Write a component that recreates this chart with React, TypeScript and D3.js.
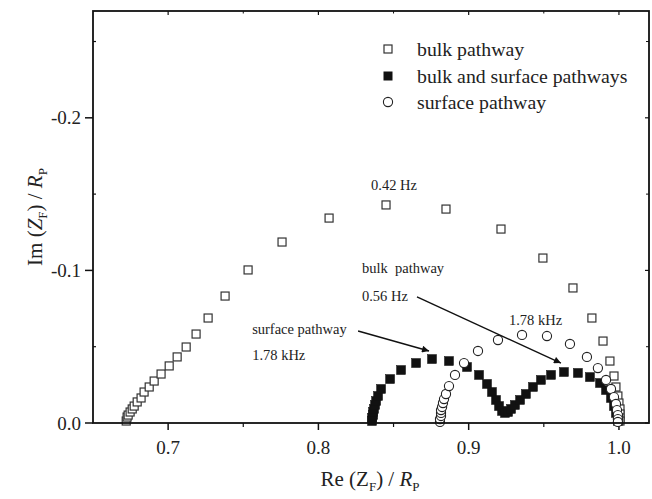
import React from 'react';
import * as d3 from 'd3';

// ---- data (Re(Z_F)/R_P, Im(Z_F)/R_P) ----
const bulkRe = [0.6721, 0.6727, 0.6734, 0.6747, 0.6761, 0.6774, 0.6794, 0.682, 0.684, 0.6874, 0.6907, 0.6953, 0.7007, 0.706, 0.712, 0.7186, 0.7266, 0.7379, 0.7532, 0.7758, 0.8071, 0.845, 0.8849, 0.9215, 0.9494, 0.9694, 0.982, 0.9894, 0.994, 0.9967, 0.998, 0.9993, 1.0, 1.0007, 1.0007, 1.0007, 1.0007];
const bulkIm = [-0.0013, -0.0039, -0.0052, -0.0072, -0.0092, -0.0111, -0.0138, -0.0164, -0.0203, -0.0236, -0.0275, -0.0321, -0.0374, -0.0433, -0.0498, -0.0583, -0.0688, -0.0832, -0.1003, -0.1186, -0.1343, -0.1429, -0.1402, -0.1271, -0.1081, -0.0885, -0.0688, -0.0537, -0.0406, -0.0308, -0.0236, -0.0177, -0.0131, -0.0092, -0.0059, -0.0033, -0.0013];

const bothRe = [0.8357, 0.8357, 0.8364, 0.8364, 0.837, 0.8377, 0.8384, 0.8397, 0.8417, 0.8477, 0.855, 0.865, 0.8756, 0.8869, 0.8989, 0.9069, 0.9122, 0.9155, 0.9182, 0.9202, 0.9222, 0.9242, 0.9262, 0.9282, 0.9308, 0.9342, 0.9381, 0.9428, 0.9481, 0.9548, 0.9634, 0.9727, 0.9807, 0.9874, 0.9914, 0.9947, 0.9967, 0.998, 0.9993, 0.9993];
const bothIm = [-0.0013, -0.0033, -0.0052, -0.0072, -0.0092, -0.0118, -0.0144, -0.0177, -0.0223, -0.0288, -0.0347, -0.0393, -0.0419, -0.0406, -0.0367, -0.0315, -0.0256, -0.0203, -0.0151, -0.0111, -0.0079, -0.0066, -0.0072, -0.0092, -0.0118, -0.0151, -0.019, -0.0236, -0.0282, -0.0315, -0.0334, -0.0328, -0.0301, -0.0262, -0.0216, -0.0164, -0.0111, -0.0066, -0.0033, -0.0013];

const surfRe = [0.8809, 0.8809, 0.8816, 0.8816, 0.8816, 0.8823, 0.8829, 0.8836, 0.8849, 0.8869, 0.8909, 0.8969, 0.9062, 0.9195, 0.9355, 0.9521, 0.9674, 0.9787, 0.986, 0.9914, 0.9947, 0.9967, 0.998, 0.9987, 0.9993, 0.9993, 0.9993];
const surfIm = [-0.0007, -0.0026, -0.0046, -0.0066, -0.0085, -0.0105, -0.0131, -0.0157, -0.019, -0.0242, -0.0315, -0.0393, -0.0472, -0.0544, -0.0577, -0.057, -0.0518, -0.0433, -0.036, -0.0282, -0.0223, -0.017, -0.0125, -0.0085, -0.0052, -0.0026, -0.0007];

const xMajor = [0.7, 0.8, 0.9, 1.0];
const xMinor = [0.75, 0.85, 0.95];
const yMajor = [0, -0.1, -0.2];
const yMinor = [-0.05, -0.15, -0.25];
const xTickLabels = ['0.7', '0.8', '0.9', '1.0'];
const yTickLabels = ['0.0', '-0.1', '-0.2'];
const legendLabels = ['bulk pathway', 'bulk and surface pathways', 'surface pathway'];

const W = 652, H = 499;
const L = 93, R = 649, T = 11, B = 423;
const FONT = '"Liberation Serif", "Times New Roman", serif';

export default function App() {
  const x = d3.scaleLinear().domain([0.65, 1.02]).range([L, R]);
  const y = d3.scaleLinear().domain([0, -0.27]).range([B, T]);

  const bulk = bulkRe.map((v, i) => [x(v), y(bulkIm[i])]);
  const both = bothRe.map((v, i) => [x(v), y(bothIm[i])]);
  const surf = surfRe.map((v, i) => [x(v), y(surfIm[i])]);

  const sqO = 8, sqF = 9, cr = 4.6;

  return (
    <svg width={W} height={H} viewBox={`0 0 ${W} ${H}`}
      style={{ position: 'absolute', left: 0, top: 0, display: 'block', background: '#fff' }}
      fontFamily={FONT}>
      <defs>
        <marker id="ah" viewBox="0 0 10 10" refX="10" refY="5" markerWidth="9" markerHeight="7" markerUnits="userSpaceOnUse" orient="auto">
          <path d="M0,0 L10,5 L0,10 z" fill="#111" />
        </marker>
      </defs>
      <rect x={0} y={0} width={W} height={H} fill="#fff" />

      {/* ticks */}
      {xMajor.map((v) => (
        <g key={'xm' + v}>
          <line x1={x(v)} x2={x(v)} y1={B} y2={B + 7} stroke="#111" strokeWidth={1.5} />
          <line x1={x(v)} x2={x(v)} y1={T} y2={T + 4} stroke="#111" strokeWidth={1.2} />
        </g>
      ))}
      {xMinor.map((v) => (
        <g key={'xn' + v}>
          <line x1={x(v)} x2={x(v)} y1={B} y2={B + 4} stroke="#111" strokeWidth={1.2} />
          <line x1={x(v)} x2={x(v)} y1={T} y2={T + 2.5} stroke="#111" strokeWidth={1} />
        </g>
      ))}
      {yMajor.map((v) => (
        <g key={'ym' + v}>
          <line x1={L - 8} x2={L} y1={y(v)} y2={y(v)} stroke="#111" strokeWidth={1.5} />
          <line x1={R - 4} x2={R} y1={y(v)} y2={y(v)} stroke="#111" strokeWidth={1.2} />
        </g>
      ))}
      {yMinor.map((v) => (
        <g key={'yn' + v}>
          <line x1={L} x2={L + 3} y1={y(v)} y2={y(v)} stroke="#111" strokeWidth={1.2} />
          <line x1={R - 3} x2={R} y1={y(v)} y2={y(v)} stroke="#111" strokeWidth={1} />
        </g>
      ))}

      {/* tick labels */}
      {xMajor.map((v, i) => (
        <text key={'xl' + v} x={x(v)} y={B + 31} textAnchor="middle" fontSize={19} fill="#222">{xTickLabels[i]}</text>
      ))}
      {yMajor.map((v, i) => (
        <text key={'yl' + v} x={L - 12} y={y(v) + 6.5} textAnchor="end" fontSize={19} fill="#222">{yTickLabels[i]}</text>
      ))}

      {/* axis titles */}
      <text x={370} y={486} textAnchor="middle" fontSize={21} fill="#222">
        Re (Z<tspan fontSize={13} dy={5}>F</tspan><tspan dy={-5}>) / </tspan><tspan fontStyle="italic">R</tspan><tspan fontSize={13} dy={5}>P</tspan>
      </text>
      <text transform={`translate(42,${(T + B) / 2}) rotate(-90)`} textAnchor="middle" fontSize={21} fill="#222">
        Im (<tspan fontStyle="italic">Z</tspan><tspan fontSize={13} dy={5}>F</tspan><tspan dy={-5}>) / </tspan><tspan fontStyle="italic">R</tspan><tspan fontSize={13} dy={5}>P</tspan>
      </text>

      {/* data */}
      {bulk.map(([px, py], i) => (
        <rect key={'b' + i} x={px - sqO / 2} y={py - sqO / 2} width={sqO} height={sqO} fill="#fff" stroke="#333" strokeWidth={1.2} />
      ))}
      {both.map(([px, py], i) => (
        <rect key={'f' + i} x={px - sqF / 2} y={py - sqF / 2} width={sqF} height={sqF} fill="#111" stroke="#111" strokeWidth={0.5} />
      ))}
      {surf.map(([px, py], i) => (
        <circle key={'s' + i} cx={px} cy={py} r={cr} fill="#fff" stroke="#222" strokeWidth={1.1} />
      ))}

      {/* annotations */}
      <text x={x(0.835)} y={y(-0.1527)} fontSize={14.5} fill="#222">0.42 Hz</text>
      <text x={x(0.829)} y={y(-0.0983)} fontSize={14.5} fill="#222" style={{ whiteSpace: 'pre' }}>bulk  pathway</text>
      <text x={x(0.829)} y={y(-0.080)} fontSize={14.5} fill="#222">0.56 Hz</text>
      <line x1={x(0.8656)} y1={y(-0.0826)} x2={x(0.9614)} y2={y(-0.0393)} stroke="#111" strokeWidth={1.4} markerEnd="url(#ah)" />
      <text x={x(0.7559)} y={y(-0.0583)} fontSize={14.5} fill="#222">surface pathway</text>
      <text x={x(0.7559)} y={y(-0.0413)} fontSize={14.5} fill="#222">1.78 kHz</text>
      <line x1={x(0.8264)} y1={y(-0.0603)} x2={x(0.8736)} y2={y(-0.0472)} stroke="#111" strokeWidth={1.4} markerEnd="url(#ah)" />
      <text x={x(0.9268)} y={y(-0.0642)} fontSize={14.5} fill="#222">1.78 kHz</text>

      {/* legend */}
      <rect x={388 - 4} y={49 - 4} width={8} height={8} fill="#fff" stroke="#333" strokeWidth={1.2} />
      <rect x={388 - 4.5} y={76 - 4.5} width={9} height={9} fill="#111" />
      <circle cx={388} cy={102} r={4.6} fill="#fff" stroke="#222" strokeWidth={1.1} />
      {legendLabels.map((t, i) => (
        <text key={'lg' + i} x={417} y={56 + i * 26.5} fontSize={19.8} fill="#222">{t}</text>
      ))}

      {/* frame */}
      <rect x={L} y={T} width={R - L} height={B - T} fill="none" stroke="#111" strokeWidth={1.8} />
    </svg>
  );
}
